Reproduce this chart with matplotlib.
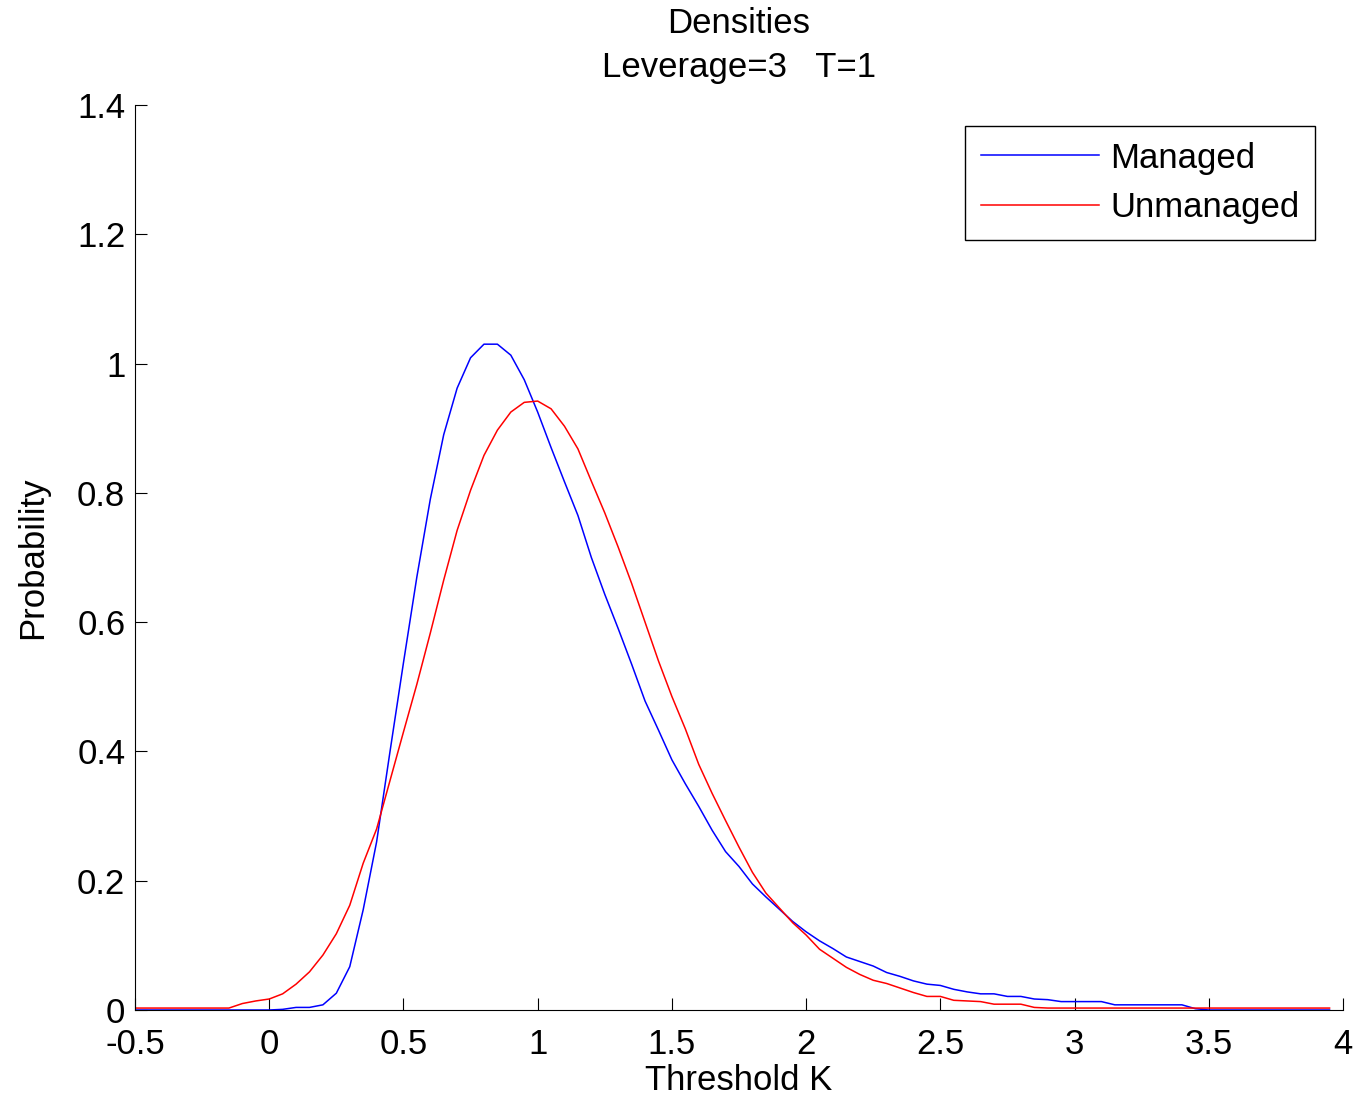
import numpy as np
import matplotlib
matplotlib.use("Agg")
import matplotlib.pyplot as plt

plt.rcParams['font.family'] = ['Liberation Sans', 'DejaVu Sans']

# threshold grid K (step 0.05)
K = [-0.5, -0.45, -0.4, -0.35, -0.3, -0.25, -0.2, -0.15, -0.1, -0.05,
     0.0, 0.05, 0.1, 0.15, 0.2, 0.25, 0.3, 0.35, 0.4, 0.45,
     0.5, 0.55, 0.6, 0.65, 0.7, 0.75, 0.8, 0.85, 0.9, 0.95,
     1.0, 1.05, 1.1, 1.15, 1.2, 1.25, 1.3, 1.35, 1.4, 1.45,
     1.5, 1.55, 1.6, 1.65, 1.7, 1.75, 1.8, 1.85, 1.9, 1.95,
     2.0, 2.05, 2.1, 2.15, 2.2, 2.25, 2.3, 2.35, 2.4, 2.45,
     2.5, 2.55, 2.6, 2.65, 2.7, 2.75, 2.8, 2.85, 2.9, 2.95,
     3.0, 3.05, 3.1, 3.15, 3.2, 3.25, 3.3, 3.35, 3.4, 3.45,
     3.5, 3.55, 3.6, 3.65, 3.7, 3.75, 3.8, 3.85, 3.9, 3.95]

managed = [0, 0, 0, 0, 0, 0, 0, 0, 0, 0,
           0, 0.001, 0.004, 0.004, 0.008, 0.026, 0.067, 0.155, 0.26, 0.40,
           0.537, 0.67, 0.79, 0.89, 0.962, 1.009, 1.03, 1.03, 1.013, 0.975,
           0.925, 0.87, 0.817, 0.765, 0.70, 0.643, 0.59, 0.535, 0.478, 0.433,
           0.387, 0.35, 0.315, 0.278, 0.245, 0.222, 0.195, 0.175, 0.156, 0.137,
           0.121, 0.107, 0.095, 0.082, 0.075, 0.068, 0.058, 0.052, 0.045, 0.040,
           0.038, 0.032, 0.028, 0.025, 0.025, 0.021, 0.021, 0.017, 0.016, 0.013,
           0.013, 0.013, 0.013, 0.008, 0.008, 0.008, 0.008, 0.008, 0.008, 0.002,
           0, 0, 0, 0, 0, 0, 0, 0, 0, 0]

unmanaged = [0.003, 0.003, 0.003, 0.003, 0.003, 0.003, 0.003, 0.003, 0.010, 0.014,
             0.017, 0.025, 0.040, 0.059, 0.085, 0.118, 0.162, 0.227, 0.28, 0.355,
             0.43, 0.504, 0.583, 0.665, 0.742, 0.804, 0.858, 0.897, 0.925, 0.94,
             0.942, 0.93, 0.903, 0.868, 0.818, 0.769, 0.716, 0.66, 0.60, 0.54,
             0.485, 0.435, 0.38, 0.335, 0.293, 0.252, 0.213, 0.181, 0.158, 0.135,
             0.116, 0.094, 0.080, 0.066, 0.055, 0.046, 0.041, 0.034, 0.027, 0.021,
             0.021, 0.015, 0.014, 0.013, 0.009, 0.009, 0.009, 0.004, 0.003, 0.003,
             0.003, 0.003, 0.003, 0.003, 0.003, 0.003, 0.003, 0.003, 0.003, 0.003,
             0.003, 0.003, 0.003, 0.003, 0.003, 0.003, 0.003, 0.003, 0.003, 0.003]

x_ticks = [-0.5, 0, 0.5, 1, 1.5, 2, 2.5, 3, 3.5, 4]
x_labels = ['-0.5', '0', '0.5', '1', '1.5', '2', '2.5', '3', '3.5', '4']
y_ticks = [0, 0.2, 0.4, 0.6, 0.8, 1, 1.2, 1.4]
y_labels = ['0', '0.2', '0.4', '0.6', '0.8', '1', '1.2', '1.4']

fs = 25
fig = plt.figure(figsize=(13.67, 10.99), dpi=100)
ax = fig.add_axes([135 / 1367, 1 - 1010 / 1099, 1208 / 1367, 905 / 1099])

ax.plot(K, managed, color=(0, 0, 1), lw=1.1, label='Managed')
ax.plot(K, unmanaged, color=(1, 0, 0), lw=1.1, label='Unmanaged')

ax.set_xlim(-0.5, 4)
ax.set_ylim(0, 1.4)
ax.set_xticks(x_ticks, x_labels)
ax.set_yticks(y_ticks, y_labels)
ax.tick_params(direction='in', length=8.5, width=0.8, labelsize=fs, color='black')
ax.tick_params(axis='x', pad=13)
ax.tick_params(axis='y', pad=7)
for side in ['top', 'right']:
    ax.spines[side].set_visible(False)
for side in ['left', 'bottom']:
    ax.spines[side].set_linewidth(0.8)

ax.set_title('Densities\nLeverage=3   T=1', fontsize=fs, pad=20, linespacing=1.45)
ax.set_xlabel('Threshold K', fontsize=fs, labelpad=2)
ax.set_ylabel('Probability', fontsize=fs, labelpad=20)

leg = ax.legend(loc='upper right', bbox_to_anchor=(0.9768, 0.9768), borderaxespad=0,
                fontsize=fs, handlelength=3.4, handletextpad=0.32, labelspacing=0.48,
                borderpad=0.45, fancybox=False, edgecolor='black', framealpha=1)
leg.get_frame().set_linewidth(1.0)

fig.savefig('out.png', dpi=100)
